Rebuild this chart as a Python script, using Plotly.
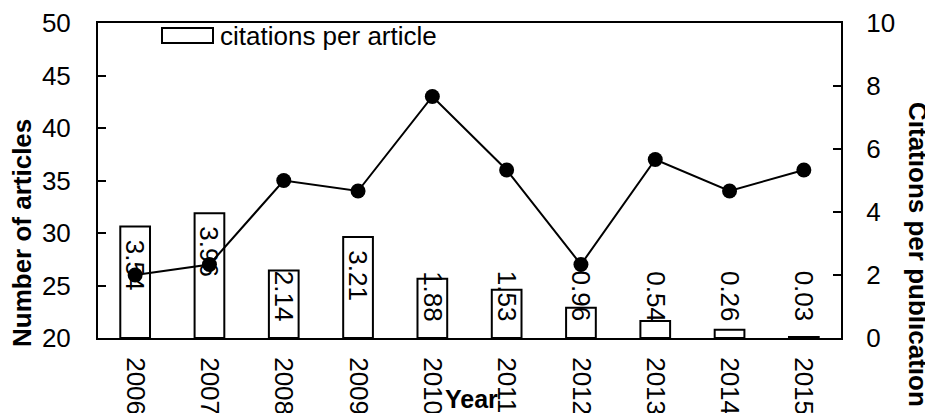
import plotly.graph_objects as go

years = ["2006", "2007", "2008", "2009", "2010", "2011", "2012", "2013", "2014", "2015"]
articles = [26, 27, 35, 34, 43, 36, 27, 37, 34, 36]
citations_per_article = [3.54, 3.96, 2.14, 3.21, 1.88, 1.53, 0.96, 0.54, 0.26, 0.03]
label_texts = ["3.54", "3.96", "2.14", "3.21", "1.88", "1.53", "0.96", "0.54", "0.26", "0.03"]

# the page body has an 8px margin, so the figure sits at (8, 8) in the window
OFF = 8
W, H = 933 - OFF, 413 - OFF
ML, MR, MT, MB = 98 - OFF, 92, 23 - OFF, 75
PW, PH = W - ML - MR, H - MT - MB
FONT = "Liberation Sans, Arial, sans-serif"

def px_x(p):
    return (p - OFF - ML) / PW

def px_y(p):
    return (H - MB - (p - OFF)) / PH

fig = go.Figure()
fig.add_trace(go.Bar(
    x=years, y=citations_per_article, name="citations per article",
    marker=dict(color="white", line=dict(color="black", width=2)),
    width=0.4, yaxis="y", showlegend=False,
))
fig.add_trace(go.Scatter(
    x=years, y=articles, name="Number of articles", mode="lines+markers",
    line=dict(color="black", width=2), marker=dict(color="black", size=15),
    yaxis="y2", showlegend=False,
))

annotations = []
label_floor = 2.54
for i, (v, t) in enumerate(zip(citations_per_article, label_texts)):
    annotations.append(dict(
        x=i, y=max(v, label_floor), xref="x", yref="y", text=t, textangle=90,
        showarrow=False, yanchor="top", yshift=-11,
        font=dict(family=FONT, size=26, color="black"),
    ))

annotations += [
    dict(text="<b>Number of articles</b>", textangle=-90, xref="paper", yref="paper",
         x=px_x(22), y=px_y(233), showarrow=False, xanchor="center", yanchor="middle",
         font=dict(family=FONT, size=26, color="black")),
    dict(text="<b>Citations per publication</b>", textangle=90, xref="paper", yref="paper",
         x=px_x(918), y=px_y(254), showarrow=False, xanchor="center", yanchor="middle",
         font=dict(family=FONT, size=26, color="black")),
    dict(text="<b>Year</b>", xref="paper", yref="paper",
         x=px_x(471), y=px_y(399), showarrow=False, xanchor="center", yanchor="middle",
         font=dict(family=FONT, size=25, color="black")),
    dict(text="citations per article", xref="paper", yref="paper",
         x=px_x(218), y=px_y(36), showarrow=False, xanchor="left", yanchor="middle",
         font=dict(family=FONT, size=26, color="black")),
]

shapes = [dict(type="rect", xref="paper", yref="paper",
               x0=px_x(162), x1=px_x(213), y0=px_y(43), y1=px_y(28),
               line=dict(color="black", width=2), fillcolor="white")]

axis_common = dict(showline=True, linecolor="black", linewidth=2, showgrid=False,
                   zeroline=False, automargin=False,
                   tickfont=dict(family=FONT, size=26, color="black"))

fig.update_layout(
    width=W, height=H,
    margin=dict(l=ML, r=MR, t=MT, b=MB, pad=0),
    paper_bgcolor="white", plot_bgcolor="white",
    font=dict(family=FONT, color="black"),
    xaxis=dict(type="category", range=[-0.5, 9.5], ticks="", tickangle=90,
               mirror=True, ticklabelstandoff=12, **axis_common),
    yaxis=dict(range=[0, 10], dtick=2, side="right", ticks="inside", ticklen=8,
               tickwidth=2, tickcolor="black", ticklabelstandoff=18, **axis_common),
    yaxis2=dict(range=[20, 50], dtick=5, side="left", overlaying="y", ticks="inside",
                ticklen=8, tickwidth=2, tickcolor="black", ticklabelstandoff=20,
                **axis_common),
    annotations=annotations, shapes=shapes,
)

fig.write_html("out.html")
